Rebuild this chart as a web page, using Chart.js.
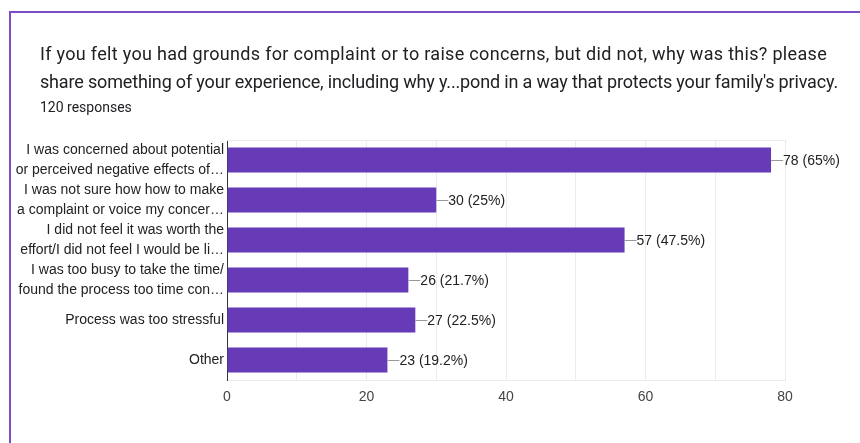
<!DOCTYPE html>
<html lang="en">
<head>
    <meta charset="UTF-8">
    <title>Complaints survey</title>
    <script src="https://cdn.jsdelivr.net/npm/chart.js"></script>
    <style>
        body {
            margin: 0;
            background: #fff;
            width: 860px;
            height: 443px;
            overflow: hidden;
            position: relative;
        }
        .card {
            position: absolute;
            left: 9px;
            top: 11px;
            width: 900px;
            height: 500px;
            border-left: 2px solid #7c4dc4;
            border-top: 2px solid #7c4dc4;
        }
        .head {
            position: absolute;
            left: 40px;
            top: 40px;
            font-family: Roboto, sans-serif;
            color: #202124;
            z-index: 2;
        }
        .head .q {
            font-size: 18px;
            line-height: 28px;
            white-space: nowrap;
        }
        .head .q span {
            display: inline-block;
        }
        .head .n {
            font-size: 14px;
            margin-top: 3px;
        }
        #chart {
            position: absolute;
            left: 0;
            top: 0;
            z-index: 1;
        }
    </style>
</head>
<body>
    <div class="card"></div>
    <div class="head">
        <div class="q"><span data-w="787">If you felt you had grounds for complaint or to raise concerns, but did not, why was this? please</span></div>
        <div class="q"><span data-w="798">share something of your experience, including why y...pond in a way that protects your family's privacy.</span></div>
        <div class="n">120 responses</div>
    </div>
    <canvas id="chart" width="860" height="443"></canvas>

    <script>
        const totalResponses = 120;

        const categories = [
            ['I was concerned about potential', 'or perceived negative effects of…'],
            ['I was not sure how how to make', 'a complaint or voice my concer…'],
            ['I did not feel it was worth the', 'effort/I did not feel I would be li…'],
            ['I was too busy to take the time/', 'found the process too time con…'],
            'Process was too stressful',
            'Other'
        ];
        const counts = [78, 30, 57, 26, 27, 23];
        const xTicks = [0, 20, 40, 60, 80];

        const purple = '#673ab7';
        const labelFont = '"Liberation Sans", Arial, sans-serif';

        // stretch/squeeze each heading line to its card width
        document.querySelectorAll('.q span').forEach((s) => {
            const want = +s.dataset.w;
            const have = s.getBoundingClientRect().width;
            s.style.letterSpacing = ((want - have) / s.textContent.length) + 'px';
        });

        // "78 (65%)" style labels with a short leader line off the bar end
        const valueLabels = {
            id: 'valueLabels',
            afterDatasetsDraw(chart) {
                const ctx = chart.ctx;
                const meta = chart.getDatasetMeta(0);
                ctx.save();
                ctx.font = '14px ' + labelFont;
                ctx.textBaseline = 'middle';
                meta.data.forEach((bar, i) => {
                    const v = counts[i];
                    const pct = Math.round(v / totalResponses * 1000) / 10;
                    const y = Math.round(bar.y) + 0.5;
                    ctx.strokeStyle = '#999';
                    ctx.lineWidth = 1;
                    ctx.beginPath();
                    ctx.moveTo(bar.x, y);
                    ctx.lineTo(bar.x + 12, y);
                    ctx.stroke();
                    ctx.fillStyle = '#222';
                    ctx.fillText(v + ' (' + pct + '%)', bar.x + 12, bar.y + 1);
                });
                ctx.restore();
            }
        };

        // light frame line along the top of the plot
        const topLine = {
            id: 'topLine',
            beforeDatasetsDraw(chart) {
                const { ctx, chartArea } = chart;
                ctx.save();
                ctx.strokeStyle = '#ebebeb';
                ctx.lineWidth = 1;
                ctx.beginPath();
                ctx.moveTo(chartArea.left, chartArea.top + 0.5);
                ctx.lineTo(chartArea.right, chartArea.top + 0.5);
                ctx.stroke();
                ctx.restore();
            }
        };

        new Chart(document.getElementById('chart'), {
            type: 'bar',
            data: {
                labels: categories,
                datasets: [{
                    data: counts,
                    backgroundColor: purple,
                    barPercentage: 0.625,
                    categoryPercentage: 1
                }]
            },
            options: {
                indexAxis: 'y',
                responsive: false,
                devicePixelRatio: 1,
                animation: false,
                layout: { padding: { left: 0, top: 140, right: 75, bottom: 0 } },
                plugins: {
                    legend: { display: false },
                    tooltip: { enabled: false }
                },
                scales: {
                    x: {
                        min: xTicks[0],
                        max: xTicks[xTicks.length - 1],
                        afterFit(scale) { scale.height = 63; },
                        border: { display: true, color: '#ebebeb' },
                        grid: {
                            drawTicks: false,
                            color: (c) => (c.tick && c.tick.value === 0) ? 'rgba(0,0,0,0)' : '#ebebeb'
                        },
                        ticks: {
                            stepSize: 10,
                            autoSkip: false,
                            maxRotation: 0,
                            padding: 9,
                            color: '#444',
                            font: { family: labelFont, size: 14 },
                            callback: (v) => xTicks.includes(v) ? v : ''
                        }
                    },
                    y: {
                        afterFit(scale) { scale.width = 227; },
                        border: { display: true, color: '#333', width: 1 },
                        grid: { display: false, drawTicks: false },
                        ticks: {
                            autoSkip: false,
                            padding: 3,
                            color: '#222',
                            font: { family: labelFont, size: 14, lineHeight: 1.42 }
                        }
                    }
                }
            },
            plugins: [valueLabels, topLine]
        });
    </script>
</body>
</html>
